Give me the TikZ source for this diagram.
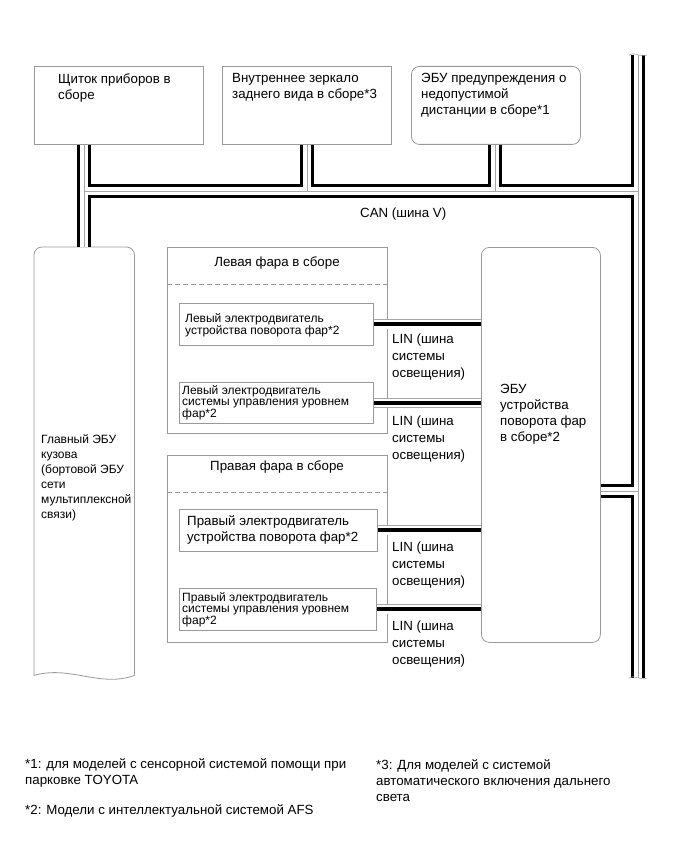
\documentclass[tikz,border=0pt]{standalone}
\usepackage{fontspec}
\setmainfont{Liberation Sans}

\tikzset{
  can outer/.style={line width=14pt, black},
  can inner/.style={line width=8pt, white},
  can core/.style={line width=0.7pt, gray!70},
  lin outer/.style={line width=10pt, gray!70},
  lin inner/.style={line width=8.4pt, white},
  lin core/.style={line width=4pt, black},
}

\begin{document}
\begin{tikzpicture}[x=1pt, y=-1pt, font=\fontsize{13.3}{16}\selectfont,
  unit/.style={draw=gray!80, line width=0.8pt, inner sep=0pt, anchor=north west},
  ecu/.style={unit, rounded corners=8pt},
  txt/.style={inner sep=0pt, anchor=north west, align=left},
  small/.style={txt, font=\fontsize{12}{11}\selectfont},
  lintxt/.style={txt, font=\fontsize{13.3}{17}\selectfont},
  sep/.style={gray!80, line width=0.8pt, dash pattern=on 5pt off 3pt}]
\useasboundingbox (0,0) rectangle (690,853);
% ---- top units ----
\node[unit, minimum width=169, minimum height=78] (meter) at (34,66) {};
\node[unit, minimum width=169, minimum height=78] (mirror) at (222,66) {};
\node[ecu, minimum width=169, minimum height=78] (pcs) at (411,66) {};
\node[txt] (meterTxt) at (58,73.5) {Щиток приборов в\\сборе};
\node[txt] (mirrorTxt) at (232,73.5) {Внутреннее зеркало\\заднего вида в сборе*3};
\node[txt] (pcsTxt) at (421,73.5) {ЭБУ предупреждения о\\недопустимой\\дистанции в сборе*1};
% ---- main body ECU ----
\node[inner sep=0pt, anchor=north west, minimum width=100, minimum height=428] (body) at (34,247) {};
\draw[gray!80, line width=0.8pt, rounded corners=8pt] (body.south west) -- (body.north west) -- (body.north east) -- (body.south east);
\draw[gray!80, line width=0.8pt] (body.south east) .. controls (100,688) and (70,665) .. (body.south west);
\node[txt, font=\fontsize{12}{15}\selectfont] (bodyTxt) at (41,434) {Главный ЭБУ\\кузова\\(бортовой ЭБУ\\сети\\мультиплексной\\связи)};
% ---- left headlamp ----
\node[unit, minimum width=220, minimum height=186] (lhead) at (167,247) {};
\draw[sep] (167,284) -- (387,284);
\node (lheadTxt) at (277,263) {Левая фара в сборе};
\node[unit, minimum width=194, minimum height=42] (lswiv) at (179,303) {};
\node[small] (lswivTxt) at (185,313) {Левый электродвигатель\\устройства поворота фар*2};
\node[unit, minimum width=194, minimum height=41] (llev) at (179,382) {};
\node[small] (llevTxt) at (182,385) {Левый электродвигатель\\системы управления уровнем\\фар*2};
% ---- right headlamp ----
\node[unit, minimum width=220, minimum height=187] (rhead) at (167,455) {};
\draw[sep] (167,492) -- (387,492);
\node (rheadTxt) at (277,467) {Правая фара в сборе};
\node[unit, minimum width=198, minimum height=42] (rswiv) at (179,509) {};
\node[txt] (rswivTxt) at (187,515.5) {Правый электродвигатель\\устройства поворота фар*2};
\node[unit, minimum width=197, minimum height=42] (rlev) at (179,588) {};
\node[small] (rlevTxt) at (182,592) {Правый электродвигатель\\системы управления уровнем\\фар*2};
% ---- swivel ECU ----
\node[ecu, minimum width=119, minimum height=395] (afs) at (481,247) {};
\node[txt] (afsTxt) at (500,384.5) {ЭБУ\\устройства\\поворота фар\\в сборе*2};
% ---- CAN bus ----
\coordinate (canL) at (84,191);
\coordinate (canM) at (307,191);
\coordinate (canN) at (495,191);
\coordinate (canR) at (638,191);
\coordinate (busTop) at (638,55);
\coordinate (busBot) at (638,678);
\coordinate (linkR) at (638,491);
\foreach \layer in {can outer, can inner, can core}
  \draw[\layer] (meter.south -| canL) -- (body.north -| canL)
    (canL) -- (canR)
    (mirror.south -| canM) -- (canM)
    (pcs.south -| canN) -- (canN)
    (busTop) -- (busBot)
    (afs.east |- linkR) -- (linkR);
\draw[gray!70, line width=0.6pt] (629,55) .. controls (634,51) and (640,58) .. (647,55);
\draw[gray!70, line width=0.6pt] (629,678) .. controls (634,674) and (640,681) .. (647,678);
\node[txt] (canTxt) at (360,207.5) {CAN (шина V)};
% ---- LIN lines ----
\foreach \layer in {lin outer, lin inner, lin core}
  \foreach \m in {lswiv, llev, rswiv, rlev}
    \draw[\layer] (\m.east) -- (\m.east -| afs.west);
\foreach \y [count=\i] in {333.5, 415.5, 541.5, 620.5}
  \node[lintxt] (lin\i) at (392,\y) {LIN (шина\\системы\\освещения)};
% ---- notes ----
\node[txt] (note1) at (25,758.5) {*1: для моделей с сенсорной системой помощи при\\парковке TOYOTA};
\node[txt] (note2) at (25,804.5) {*2: Модели с интеллектуальной системой AFS};
\node[txt] (note3) at (376,759.5) {*3: Для моделей с системой\\автоматического включения дальнего\\света};
\end{tikzpicture}
\end{document}
